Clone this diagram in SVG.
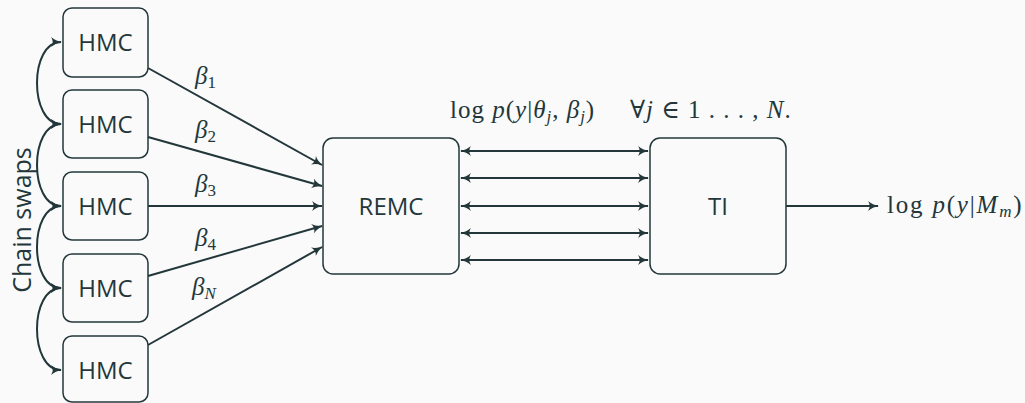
<svg xmlns="http://www.w3.org/2000/svg" width="1025" height="403" viewBox="0 0 1025 403">
<defs>
<marker id="ah" viewBox="0 0 10 10" refX="9" refY="5" markerWidth="11" markerHeight="11" markerUnits="userSpaceOnUse" orient="auto-start-reverse">
<path d="M0,0.5 Q4,4 10,5 Q4,6 0,9.5 Q3,5 0,0.5 Z" fill="#23373b"/>
</marker>
<style>
.box{fill:none;stroke:#23373b;stroke-width:1.5}
.lbl{font-family:"Open Sans","DejaVu Sans",sans-serif;font-size:24px;fill:#23373b;text-anchor:middle}
.ln{fill:none;stroke:#23373b;stroke-width:2;marker-end:url(#ah)}
.bi{fill:none;stroke:#23373b;stroke-width:2;marker-end:url(#ah);marker-start:url(#ah)}
.m{font-family:"Liberation Serif","DejaVu Serif",serif;font-size:25px;fill:#23373b}
.i{font-style:italic}
</style>
</defs>
<rect width="1025" height="403" fill="#fafafa"/>
<g id="hmc1"><rect class="box" x="63" y="8" width="85" height="69" rx="9"/><text class="lbl" x="105.5" y="51">HMC</text></g>
<g id="hmc2"><rect class="box" x="63" y="90" width="85" height="68" rx="9"/><text class="lbl" x="105.5" y="133">HMC</text></g>
<g id="hmc3"><rect class="box" x="63" y="172" width="85" height="68" rx="9"/><text class="lbl" x="105.5" y="215">HMC</text></g>
<g id="hmc4"><rect class="box" x="63" y="254" width="85" height="68" rx="9"/><text class="lbl" x="105.5" y="297">HMC</text></g>
<g id="hmc5"><rect class="box" x="63" y="336" width="85" height="66" rx="9"/><text class="lbl" x="105.5" y="379">HMC</text></g>
<g id="remc"><rect class="box" x="323" y="138" width="136" height="136" rx="10"/><text class="lbl" x="391" y="215">REMC</text></g>
<g id="ti"><rect class="box" x="650" y="138" width="136" height="136" rx="10"/><text class="lbl" x="718" y="215">TI</text></g>
<g id="connectors">
<path class="bi" d="M61,42 C29,42 29,124 61,124"/>
<path class="bi" d="M61,124 C29,124 29,206 61,206"/>
<path class="bi" d="M61,206 C29,206 29,288 61,288"/>
<path class="bi" d="M61,288 C29,288 29,370 61,370"/>
<path class="ln" d="M148,68 L322,165"/>
<path class="ln" d="M148,137 L322,186"/>
<path class="ln" d="M148,206 L322,206"/>
<path class="ln" d="M148,276 L322,226"/>
<path class="ln" d="M148,345 L322,247"/>
<path class="bi" d="M461,151 L648,151"/>
<path class="bi" d="M461,178 L648,178"/>
<path class="bi" d="M461,206 L648,206"/>
<path class="bi" d="M461,233 L648,233"/>
<path class="bi" d="M461,260 L648,260"/>
<path class="ln" d="M786,206 L878,206"/>
</g>
<text class="lbl" style="font-size:25px" transform="translate(31,220) rotate(-90)">Chain swaps</text>
<text class="m" x="195" y="84"><tspan class="i">β</tspan><tspan font-size="17" dy="4">1</tspan></text>
<text class="m" x="195" y="138"><tspan class="i">β</tspan><tspan font-size="17" dy="4">2</tspan></text>
<text class="m" x="195" y="192"><tspan class="i">β</tspan><tspan font-size="17" dy="4">3</tspan></text>
<text class="m" x="195" y="246"><tspan class="i">β</tspan><tspan font-size="17" dy="4">4</tspan></text>
<text class="m" x="192" y="295"><tspan class="i">β</tspan><tspan font-size="17" dy="4" class="i">N</tspan></text>
<text class="m" x="450" y="118" letter-spacing="1"><tspan>log </tspan><tspan class="i">p</tspan>(<tspan class="i">y</tspan>|<tspan class="i">θ</tspan><tspan font-size="17" dy="4" class="i">j</tspan><tspan dy="-4">, </tspan><tspan class="i">β</tspan><tspan font-size="17" dy="4" class="i">j</tspan><tspan dy="-4">)</tspan><tspan x="630">∀</tspan><tspan class="i">j</tspan> ∈ 1 . . . , <tspan class="i">N</tspan>.</text>
<text class="m" x="887" y="213" letter-spacing="1.8">log <tspan class="i">p</tspan>(<tspan class="i">y</tspan>|<tspan class="i">M</tspan><tspan font-size="17" dy="4" class="i">m</tspan><tspan dy="-4">)</tspan></text>
</svg>
